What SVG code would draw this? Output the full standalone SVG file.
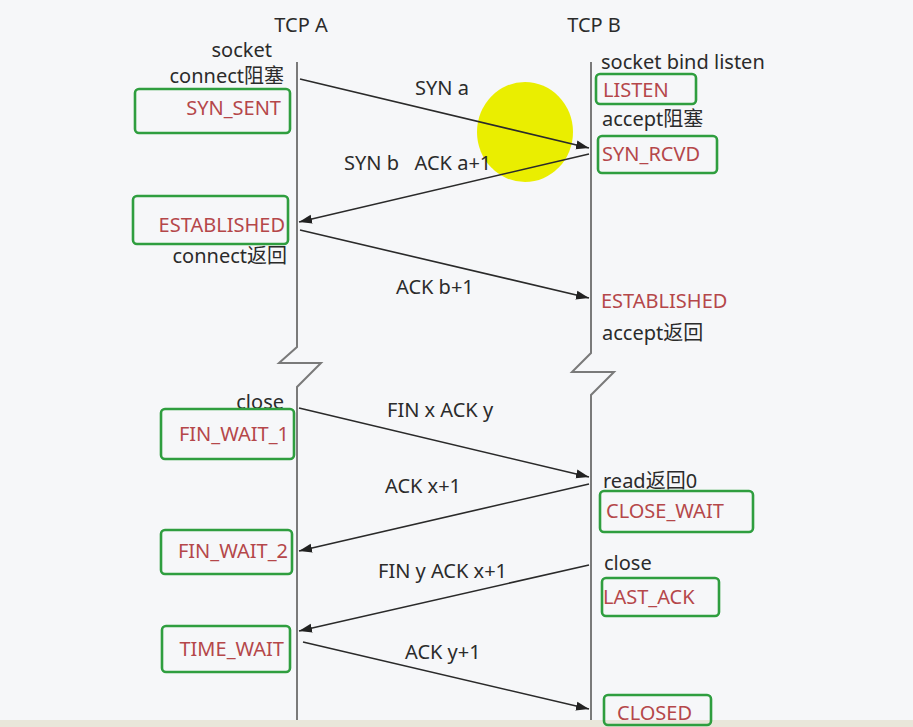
<svg xmlns="http://www.w3.org/2000/svg" width="913" height="727" viewBox="0 0 913 727">
<defs>
<marker id="ah" markerUnits="userSpaceOnUse" markerWidth="14" markerHeight="10" refX="13" refY="5" orient="auto">
<path d="M0,0.5 L13,5 L0,9.5 Z" fill="#222"/>
</marker>
<style>
text{font-family:"Noto Sans","Noto Sans CJK SC",sans-serif;font-size:20px;fill:#2b2b2b}
.st{fill:#b5474a}
.e{text-anchor:end}
.box{fill:none;stroke:#2f9e3f;stroke-width:2.6}
.life{fill:none;stroke:#7a7a7a;stroke-width:2}
.msg{stroke:#2a2a2a;stroke-width:1.6;marker-end:url(#ah)}
</style>
</defs>
<rect width="913" height="727" fill="#f6f7f9"/>
<rect x="0" y="720" width="913" height="7" fill="#e9e6da"/>
<ellipse cx="525" cy="132" rx="48" ry="50" fill="#eaee00"/>
<g id="lifelines">
<path class="life" d="M297,62 V347 L279,363 H321 L297,387 V720"/>
<path class="life" d="M591,62 V353 L572,372 H614 L591,395 V720"/>
</g>
<g id="headers">
<text x="301" y="32" text-anchor="middle">TCP A</text>
<text x="594" y="32" text-anchor="middle">TCP B</text>
</g>
<g id="connectors">
<line class="msg" x1="300" y1="79" x2="589" y2="148"/>
<line class="msg" x1="589" y1="154" x2="299" y2="222"/>
<line class="msg" x1="300" y1="230" x2="589" y2="298"/>
<line class="msg" x1="299" y1="408" x2="589" y2="477"/>
<line class="msg" x1="589" y1="484" x2="299" y2="551"/>
<line class="msg" x1="589" y1="565" x2="299" y2="631"/>
<line class="msg" x1="303" y1="642" x2="589" y2="709"/>
<text x="415" y="95">SYN a</text>
<text x="344" y="170" xml:space="preserve">SYN b   ACK a+1</text>
<text x="396" y="294">ACK b+1</text>
<text x="387" y="417">FIN x ACK y</text>
<text x="385" y="493">ACK x+1</text>
<text x="378" y="578">FIN y ACK x+1</text>
<text x="405" y="659">ACK y+1</text>
</g>
<g id="a-socket"><text class="e" x="272" y="57">socket</text></g>
<g id="a-connect"><text class="e" x="284" y="83">connect阻塞</text></g>
<g id="syn-sent"><rect class="box" x="135" y="89" width="155" height="44" rx="4"/><text class="st e" x="281" y="115">SYN_SENT</text></g>
<g id="a-established"><rect class="box" x="133" y="196" width="155" height="48" rx="4"/><text class="st e" x="285" y="232">ESTABLISHED</text></g>
<g id="a-connect-ret"><text class="e" x="287" y="263">connect返回</text></g>
<g id="b-socket"><text x="601" y="69">socket bind listen</text></g>
<g id="listen"><rect class="box" x="596" y="74" width="100" height="30" rx="4"/><text class="st" x="603" y="97">LISTEN</text></g>
<g id="b-accept"><text x="602" y="126">accept阻塞</text></g>
<g id="syn-rcvd"><rect class="box" x="598" y="136" width="119" height="37" rx="4"/><text class="st" x="602" y="161">SYN_RCVD</text></g>
<g id="b-established"><text class="st" x="601" y="308">ESTABLISHED</text></g>
<g id="b-accept-ret"><text x="602" y="340">accept返回</text></g>
<g id="a-close"><text class="e" x="284" y="409">close</text></g>
<g id="fin-wait-1"><rect class="box" x="161" y="409" width="133" height="50" rx="4"/><text class="st e" x="289" y="441">FIN_WAIT_1</text></g>
<g id="b-read"><text x="603" y="488">read返回0</text></g>
<g id="close-wait"><rect class="box" x="600" y="491" width="153" height="41" rx="4"/><text class="st" x="606" y="518">CLOSE_WAIT</text></g>
<g id="fin-wait-2"><rect class="box" x="161" y="530" width="131" height="44" rx="4"/><text class="st e" x="288" y="558">FIN_WAIT_2</text></g>
<g id="b-close"><text x="604" y="570">close</text></g>
<g id="last-ack"><rect class="box" x="602" y="578" width="117" height="38" rx="4"/><text class="st" x="603" y="604">LAST_ACK</text></g>
<g id="time-wait"><rect class="box" x="162" y="626" width="128" height="46" rx="4"/><text class="st e" x="284" y="656">TIME_WAIT</text></g>
<g id="closed"><rect class="box" x="604" y="695" width="107" height="30" rx="4"/><text class="st" x="617" y="720">CLOSED</text></g>
</svg>
